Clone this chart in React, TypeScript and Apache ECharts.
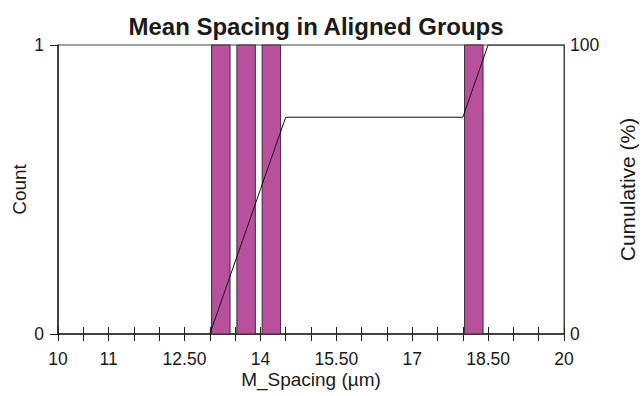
import React, { useEffect, useRef } from "react";
import * as echarts from "echarts";

const binStarts = [13, 13.5, 14, 18];
const counts = [1, 1, 1, 1];
const cumX = [13, 13.5, 14, 14.5, 18, 18.5, 20];
const cumPct = [0, 25, 50, 75, 75, 100, 100];
const xTickValues = [10, 11, 12.5, 14, 15.5, 17, 18.5, 20];
const xTickLabels = ["10", "11", "12.50", "14", "15.50", "17", "18.50", "20"];

const FONT = "Liberation Sans, Arial, sans-serif";

export default function App() {
  const ref = useRef<HTMLDivElement>(null);
  useEffect(() => {
    if (!ref.current) return;
    const chart = echarts.init(ref.current, null, { renderer: "svg" });
    const labelFor = (v: number) => {
      const i = xTickValues.findIndex((t) => Math.abs(t - v) < 1e-6);
      return i >= 0 ? xTickLabels[i] : "";
    };
    chart.setOption({
      animation: false,
      backgroundColor: "#ffffff",
      textStyle: { fontFamily: FONT },
      title: {
        text: "Mean Spacing in Aligned Groups",
        left: 311,
        textAlign: "center",
        top: 9,
        textStyle: { fontFamily: FONT, fontSize: 24, fontWeight: "bold", color: "#1a1a1a" },
      },
      grid: {
        left: 58,
        right: 78,
        top: 45,
        bottom: 62,
        outerBoundsMode: "none",
        show: true,
        borderColor: "#444",
        borderWidth: 1,
        backgroundColor: "transparent",
      },
      xAxis: [
        {
          type: "value",
          min: 10,
          max: 20,
          interval: 0.5,
          position: "bottom",
          name: "M_Spacing (µm)",
          nameLocation: "middle",
          nameGap: 36,
          nameMoveOverlap: false,
          nameTextStyle: { fontFamily: FONT, fontSize: 19, color: "#1a1a1a" },
          axisLine: { show: true, lineStyle: { color: "#222", width: 1.5 } },
          axisTick: { show: true, length: 7, inside: false, lineStyle: { color: "#222" } },
          axisLabel: {
            show: true,
            margin: 16,
            fontFamily: FONT,
            fontSize: 17.5,
            color: "#1a1a1a",
            formatter: (v: number) => labelFor(v),
          },
          splitLine: { show: false },
        },
        {
          type: "value",
          min: 10,
          max: 20,
          interval: 0.5,
          position: "bottom",
          axisLine: { show: false },
          axisTick: { show: true, length: 7, inside: true, lineStyle: { color: "#222" } },
          axisLabel: { show: false },
          splitLine: { show: false },
        },
      ],
      yAxis: [
        {
          type: "value",
          min: 0,
          max: 1,
          interval: 1,
          position: "left",
          name: "Count",
          nameLocation: "middle",
          nameGap: 29,
          nameMoveOverlap: false,
          nameRotate: 90,
          nameTextStyle: { fontFamily: FONT, fontSize: 19, color: "#1a1a1a" },
          axisLine: { show: true, lineStyle: { color: "#222", width: 1.5 } },
          axisTick: { show: true, length: 8, lineStyle: { color: "#222" } },
          axisLabel: { margin: 14, fontFamily: FONT, fontSize: 17.5, color: "#1a1a1a" },
          splitLine: { show: false },
        },
        {
          type: "value",
          min: 0,
          max: 100,
          interval: 100,
          position: "right",
          name: "Cumulative (%)",
          nameLocation: "middle",
          nameGap: 53,
          nameMoveOverlap: false,
          nameRotate: 90,
          nameTextStyle: { fontFamily: FONT, fontSize: 21, color: "#1a1a1a" },
          axisLine: { show: true, lineStyle: { color: "#444", width: 1 } },
          axisTick: { show: false },
          axisLabel: { margin: 6, fontFamily: FONT, fontSize: 17.5, color: "#1a1a1a" },
          splitLine: { show: false },
        },
      ],
      series: [
        {
          type: "custom",
          xAxisIndex: 0,
          yAxisIndex: 0,
          data: binStarts.map((s, i) => [s, counts[i]]),
          renderItem: (params: any, api: any) => {
            const x0 = api.value(0);
            const c = api.value(1);
            const p0 = api.coord([x0 + 0.035, c]);
            const p1 = api.coord([x0 + 0.4, 0]);
            return {
              type: "rect",
              shape: { x: p0[0], y: p0[1], width: p1[0] - p0[0], height: p1[1] - p0[1] },
              style: { fill: "#B8509E", stroke: "#3a2a35", lineWidth: 1 },
            };
          },
          z: 2,
        },
        {
          type: "line",
          xAxisIndex: 0,
          yAxisIndex: 1,
          data: cumX.map((x, i) => [x, cumPct[i]]),
          symbol: "none",
          lineStyle: { color: "#111", width: 1 },
          z: 3,
        },
      ],
    });
    return () => chart.dispose();
  }, []);
  return (
    <div
      ref={ref}
      style={{ position: "fixed", left: 0, top: 0, width: 642, height: 396 }}
    />
  );
}
